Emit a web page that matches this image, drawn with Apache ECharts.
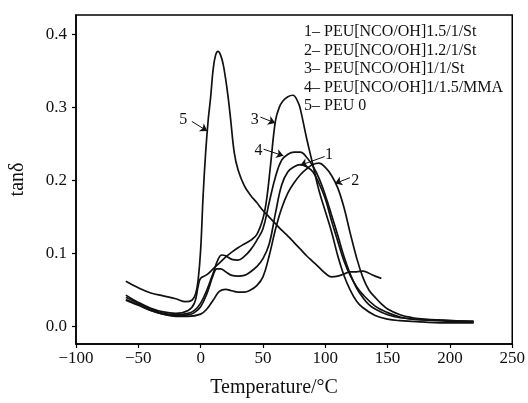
<!DOCTYPE html>
<html>
<head>
<meta charset="utf-8">
<script src="https://cdn.jsdelivr.net/npm/echarts@6/dist/echarts.min.js"></script>
<style>
html,body{margin:0;padding:0;background:#fff;}
#chart{width:528px;height:403px;}
</style>
</head>
<body>
<div id="chart"></div>
<script>
// ---- data ----
const seriesNames = ["1– PEU[NCO/OH]1.5/1/St","2– PEU[NCO/OH]1.2/1/St","3– PEU[NCO/OH]1/1/St","4– PEU[NCO/OH]1/1.5/MMA","5– PEU 0"];

const t1 = [-60,-50,-40,-30,-20,-10,-5,0,5,10,13,16,20,25,30,35,40,45,50,55,60,65,70,75,80,85,90,95,100,105,110,115,120,125,130,140,150,160,170,180,200,219];
const v1 = [0.036,0.029,0.022,0.017,0.015,0.016,0.019,0.027,0.045,0.07,0.079,0.079,0.075,0.07,0.069,0.07,0.075,0.082,0.093,0.113,0.155,0.194,0.212,0.219,0.222,0.219,0.212,0.196,0.175,0.145,0.117,0.09,0.07,0.055,0.044,0.028,0.019,0.013,0.01,0.009,0.007,0.006];

const t2 = [-60,-50,-40,-30,-20,-10,0,5,10,15,20,25,30,35,40,45,50,55,60,65,70,75,80,85,90,95,100,105,110,115,120,125,130,135,140,145,150,160,170,180,200,219];
const v2 = [0.037,0.03,0.022,0.017,0.014,0.014,0.017,0.024,0.036,0.048,0.051,0.049,0.047,0.047,0.05,0.056,0.068,0.097,0.133,0.162,0.183,0.197,0.208,0.216,0.222,0.224,0.218,0.207,0.19,0.163,0.128,0.095,0.068,0.05,0.04,0.031,0.024,0.016,0.012,0.01,0.008,0.007];

const t3 = [-60,-50,-40,-30,-20,-10,-5,-2,0,5,10,15,20,25,30,35,40,45,50,53,56,60,63,66,70,74,78,80,85,90,95,100,105,110,115,120,125,130,140,150,160,180,200,219];
const v3 = [0.043,0.033,0.025,0.02,0.018,0.022,0.032,0.055,0.066,0.071,0.079,0.087,0.095,0.102,0.108,0.113,0.118,0.126,0.148,0.175,0.22,0.282,0.3,0.309,0.315,0.317,0.308,0.298,0.258,0.222,0.186,0.158,0.13,0.097,0.07,0.05,0.035,0.026,0.015,0.01,0.008,0.006,0.005,0.005];

const t4 = [-60,-50,-40,-30,-20,-10,-5,0,5,10,14,17,20,25,30,35,40,45,50,55,60,65,70,75,80,85,90,95,100,105,110,115,120,125,130,135,140,150,160,180,200,219];
const v4 = [0.04,0.032,0.024,0.018,0.016,0.018,0.022,0.032,0.05,0.073,0.092,0.098,0.097,0.092,0.091,0.096,0.105,0.118,0.134,0.17,0.205,0.228,0.236,0.239,0.239,0.232,0.22,0.203,0.18,0.153,0.125,0.096,0.072,0.053,0.04,0.03,0.024,0.016,0.012,0.009,0.008,0.007];

const t5 = [-60,-50,-40,-30,-20,-12,-7,-4,-2,0,2,4,6,8,10,12,14,16,18,20,22,24,27,30,35,40,45,50,55,60,65,70,75,80,85,90,95,100,105,110,115,120,125,130,135,140,145];
const v5 = [0.062,0.053,0.046,0.042,0.038,0.034,0.036,0.045,0.064,0.105,0.18,0.238,0.282,0.314,0.352,0.372,0.377,0.372,0.36,0.34,0.315,0.285,0.238,0.215,0.193,0.18,0.17,0.159,0.15,0.141,0.132,0.124,0.115,0.106,0.097,0.089,0.081,0.073,0.068,0.069,0.072,0.075,0.075,0.076,0.073,0.069,0.066];

const xTicks = [-100,-50,0,50,100,150,200,250];
const yTicks = [0.0,0.1,0.2,0.3,0.4];

// curve annotations: label, label position, arrow start, arrow tip (data units)
const annLabels = ["5","3","4","1","2"];
const annText  = [[-14,0.283],[43.5,0.283],[46.5,0.241],[103,0.235],[124,0.2]];
const annFrom  = [[-7,0.281],[48,0.287],[50.5,0.243],[99.5,0.233],[119.8,0.204]];
const annTo    = [[5.3,0.268],[59.8,0.279],[66.4,0.234],[80,0.221],[107.8,0.196]];

// ---- chart ----
const FONT = '"Liberation Serif","Times New Roman",serif';
function pairs(t,v){return t.map((x,i)=>[x,v[i]]);}
const allT=[t1,t2,t3,t4,t5], allV=[v1,v2,v3,v4,v5];

const series = allT.map((t,i)=>({
  name: seriesNames[i],
  type:'line',
  data: pairs(t,allV[i]),
  showSymbol:false,
  smooth:0.4,
  lineStyle:{color:'#111',width:1.7},
  itemStyle:{color:'#111'},
  animation:false,
  silent:true
}));

series.push({
  type:'line', data:[], silent:true, animation:false,
  markLine:{
    silent:true, animation:false,
    symbol:['none','arrow'], symbolSize:7,
    lineStyle:{color:'#111',width:1,type:'solid'},
    label:{show:false},
    data: annFrom.map((f,i)=>[{coord:f},{coord:annTo[i]}])
  },
  markPoint:{
    silent:true, animation:false,
    symbol:'circle', symbolSize:0,
    label:{show:true, position:'inside', color:'#111', fontFamily:FONT, fontSize:16,
      formatter:p=>p.name},
    data: annText.map((c,i)=>({name:annLabels[i], coord:c}))
  }
});

const chart = echarts.init(document.getElementById('chart'),null,{renderer:'canvas'});
chart.setOption({
  backgroundColor:'#fff',
  animation:false,
  grid:{left:75,right:15,top:15,bottom:57,show:true,borderColor:'#000',borderWidth:1.5,backgroundColor:'transparent'},
  xAxis:{
    type:'value', min:-100, max:250, interval:50,
    name:'Temperature/°C', nameLocation:'middle', nameGap:34,
    nameTextStyle:{fontFamily:FONT,fontSize:20,color:'#111',padding:[0,40,0,0]},
    axisLine:{show:true,onZero:false,lineStyle:{color:'#000',width:1.5}},
    axisTick:{show:true,inside:false,length:4,lineStyle:{color:'#000',width:1.2}},
    axisLabel:{fontFamily:FONT,fontSize:17,color:'#111',margin:6,
      formatter:v=>String(v).replace('-','\u2212')},
    splitLine:{show:false}
  },
  yAxis:{
    type:'value', min:-0.024, max:0.427,
    name:'tanδ', nameLocation:'middle', nameGap:48, nameRotate:90,
    nameTextStyle:{fontFamily:FONT,fontSize:20,color:'#111'},
    axisLine:{show:true,onZero:false,lineStyle:{color:'#000',width:1.5}},
    axisTick:{show:true,inside:false,length:4,customValues:yTicks,lineStyle:{color:'#000',width:1.2}},
    axisLabel:{fontFamily:FONT,fontSize:17,color:'#111',margin:9,customValues:yTicks,
      formatter:v=>v.toFixed(1)},
    splitLine:{show:false}
  },
  graphic: seriesNames.map((s,i)=>({
    type:'text', left:304, top:24+i*18.5, silent:true,
    style:{text:s, fill:'#111', font:'16px '+FONT}
  })),
  series: series
});
</script>
</body>
</html>
